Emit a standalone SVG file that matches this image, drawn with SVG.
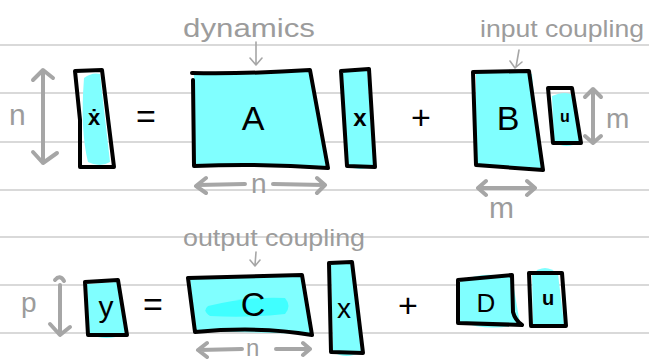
<svg xmlns="http://www.w3.org/2000/svg" width="649" height="360" viewBox="0 0 649 360">
<style>
.rule{stroke:#d9d9d9;stroke-width:2}
.box{fill:none;stroke:#000;stroke-width:4;stroke-linejoin:round;stroke-linecap:round}
.fill{fill:#80ffff}
.dim{fill:none;stroke:#a6a6a6;stroke-width:4;stroke-linecap:round;stroke-linejoin:round}
.thin{fill:none;stroke:#a6a6a6;stroke-width:1.6;stroke-linecap:round;stroke-linejoin:round}
.lbl{font-family:"Liberation Sans",sans-serif;fill:#9c9c9c}
.sym{font-family:"Liberation Sans",sans-serif;fill:#000;text-anchor:middle}
.b{font-weight:bold}
</style>
<rect width="649" height="360" fill="#fff"/>
<g id="rules">
<line class="rule" x1="0" y1="45" x2="649" y2="45"/>
<line class="rule" x1="0" y1="93" x2="649" y2="93"/>
<line class="rule" x1="0" y1="142" x2="649" y2="142"/>
<line class="rule" x1="0" y1="190" x2="649" y2="190"/>
<line class="rule" x1="0" y1="237" x2="649" y2="237"/>
<line class="rule" x1="0" y1="285" x2="649" y2="285"/>
<line class="rule" x1="0" y1="333" x2="649" y2="333"/>
</g>

<g id="xdot">
<path class="fill" d="M84,78 Q92,72 100,74 L110,162 Q100,168 88,162 Q80,130 84,78Z"/>
<path class="box" d="M75,71 L102,70 L114,167 L80,167 L80,120 Z"/>
<text class="sym b" x="94" y="125" font-size="22">ẋ</text>
</g>
<g id="A">
<path class="fill" d="M194,74 L309,71 L326,166 L195,164Z"/>
<path class="box" d="M192,73 Q250,74 310,70 L328,168 Q260,163 194,166 L193,80"/>
<text class="sym" x="253" y="130" font-size="34">A</text>
</g>
<g id="x1">
<path class="fill" d="M343,72 L367,70 L374,166 Q360,172 347,166Z"/>
<path class="box" d="M341,71 L369,69 L375,167 L347,166 Z"/>
<text class="sym b" x="360" y="126" font-size="24">x</text>
</g>
<g id="B">
<path class="fill" d="M476,74 Q500,68 532,74 L541,168 L476,166Z"/>
<path class="box" d="M473,72 L529,71 L543,170 L476,165 Z"/>
<text class="sym" x="508" y="130" font-size="34">B</text>
</g>
<g id="u1">
<path class="fill" d="M552,96 Q566,90 574,96 L580,142 Q566,150 554,142Z"/>
<path class="box" d="M548,88 L572,88 L581,143 L553,143 Z"/>
<text class="sym b" x="565" y="122" font-size="16">u</text>
</g>

<g id="y">
<path class="fill" d="M87,284 L117,282 L125,334 Q106,342 89,334Z"/>
<path class="box" d="M85,282 L118,280 L127,335 L88,335 Z"/>
<text class="sym" x="106" y="317" font-size="30">y</text>
</g>
<g id="C">
<path class="fill" d="M190,279 L301,276 L311,334 L196,331Z"/>
<path fill="#40ffff" d="M208,306 Q250,296 285,298 Q292,306 285,314 Q250,318 210,316 Q202,311 208,306Z"/>
<path class="box" d="M188,278 L302,275 L312,335 Q260,326 195,332 Z"/>
<text class="sym" x="253" y="316" font-size="34">C</text>
</g>
<g id="x2">
<path class="fill" d="M331,264 L351,263 L361,352 Q346,360 333,352Z"/>
<path class="box" d="M329,263 L352,262 L363,353 L331,352 Z"/>
<text class="sym" x="344" y="318" font-size="28">x</text>
</g>
<g id="D">
<path class="fill" d="M460,282 Q480,272 500,276 L512,277 L520,324 Q490,332 460,322Z"/>
<path class="box" d="M458,280 L512,275 L513,312 Q515,320 522,325 L458,323 Z"/>
<text class="sym" x="486" y="312" font-size="26">D</text>
</g>
<g id="u2">
<path class="fill" d="M532,274 Q545,262 558,274 L564,324 L533,324Z"/>
<path class="box" d="M529,273 L562,273 L566,326 L531,326 Z"/>
<text class="sym b" x="548" y="305" font-size="20">u</text>
</g>

<g id="operators" font-family="Liberation Sans,sans-serif" font-size="34" text-anchor="middle" fill="#000">
<text x="146" y="128">=</text>
<text x="421" y="129">+</text>
<text x="153" y="316">=</text>
<text x="408" y="317">+</text>
</g>

<g id="connectors">
<path class="dim" d="M43,72 L43,163 M33,80 L43,70 L53,78 M33,152 L43,163 L57,153"/>
<path class="dim" d="M198,185 L245,184 M206,178 L196,186 L206,193 M273,184 L324,185 M317,178 L325,185 L317,193"/>
<path class="dim" d="M593,90 L593,142 M585,97 L593,89 L601,97 M585,136 L593,143 L601,136"/>
<path class="dim" d="M479,188 L534,188 M486,181 L478,188 L486,195 M527,181 L535,188 L527,195"/>
<path class="dim" d="M60,285 L60,334 M55,280 Q60,274 64,281 M50,324 L60,335 L70,327"/>
<path class="dim" d="M199,350 L242,349 M207,343 L198,350 L207,357 M276,349 L310,349 M303,343 L310,349 L303,355"/>
<path class="thin" d="M256,42 L256,64 M250,58 L256,65 L262,58"/>
<path class="thin" d="M519,50 L516,67 M510,61 L515,68 L522,62"/>
<path class="thin" d="M256,252 L255,265 M250,260 L255,266 L260,260"/>
</g>

<g id="labels">
<text class="lbl" x="9" y="125" font-size="30">n</text>
<text class="lbl" x="251" y="193" font-size="28">n</text>
<text class="lbl" x="606" y="128" font-size="28">m</text>
<text class="lbl" x="489" y="218" font-size="30">m</text>
<text class="lbl" x="21" y="312" font-size="28">p</text>
<text class="lbl" x="246" y="356" font-size="24">n</text>
<text class="lbl" x="183" y="37" font-size="26" textLength="132" lengthAdjust="spacingAndGlyphs">dynamics</text>
<text class="lbl" x="480" y="37" font-size="24" textLength="164" lengthAdjust="spacingAndGlyphs">input coupling</text>
<text class="lbl" x="183" y="246" font-size="24" textLength="182" lengthAdjust="spacingAndGlyphs">output coupling</text>
</g>
</svg>
